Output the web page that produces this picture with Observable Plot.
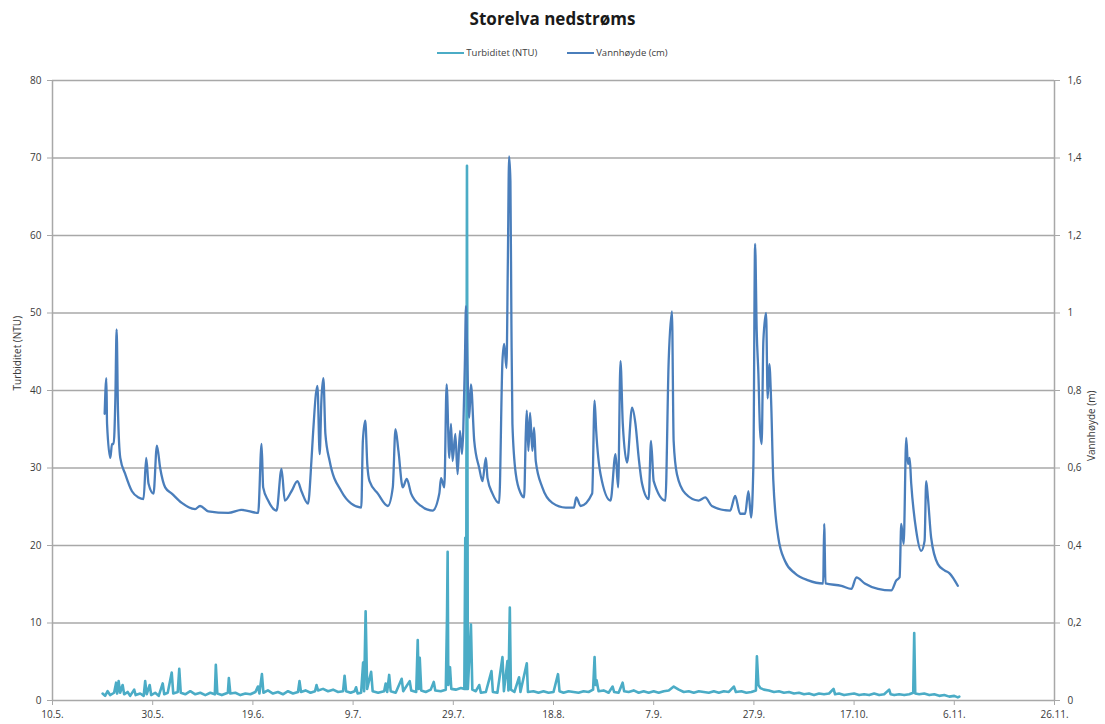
<!DOCTYPE html>
<html>
<head>
<meta charset="utf-8">
<script src="https://cdn.jsdelivr.net/npm/d3@7"></script>
<script src="https://cdn.jsdelivr.net/npm/@observablehq/plot@0.6"></script>
<style>
  body { margin: 0; background: #fff; font-family: "Open Sans", sans-serif; }
  #wrap { width: 1105px; height: 724px; position: relative; overflow: hidden; }
  #title { position: absolute; top: 7px; left: 0; width: 1105px; text-align: center; font-weight: bold; font-size: 17px; color: #1a1a1a; }
  #legend { position: absolute; top: 46px; left: 0; width: 1105px; display: flex; justify-content: center; gap: 30px; font-size: 9.5px; color: #404040; }
  #legend span.item { display: flex; align-items: center; }
  .sw { display: inline-block; width: 27px; height: 2px; margin-right: 2px; }
  #chart { position: absolute; top: 65px; left: 0; }
</style>
</head>
<body>
<div id="wrap">
  <div id="title"></div>
  <div id="legend"></div>
  <div id="chart"></div>
</div>
<script>
// ---- text ----
const chartTitle = "Storelva nedstrøms";
const seriesNames = ["Turbiditet (NTU)", "Vannhøyde (cm)"];
const seriesColors = ["#4bacc6", "#4a7ebb"];
const leftAxisTitle = "Turbiditet (NTU)";
const rightAxisTitle = "Vannhøyde (m)";

// ---- axes ----
const startDate = "2014-05-10";               // x-axis origin (10.5.)
const xTickOffsets = [0, 20, 40, 60, 80, 100, 120, 140, 160, 180, 200]; // days after 10.5.
const xTickLabels = ["10.5.", "30.5.", "19.6.", "9.7.", "29.7.", "18.8.", "7.9.", "27.9.", "17.10.", "6.11.", "26.11."];
const leftTicks = [0, 10, 20, 30, 40, 50, 60, 70, 80];
const rightTickLabels = ["0", "0,2", "0,4", "0,6", "0,8", "1", "1,2", "1,4", "1,6"];
const rightMax = 1.6;   // right axis top (m) aligned with left axis top (80 NTU)
const leftMax = 80;

// ---- data: [days after 10.5., value] ----
const turbiditet = [
  [10.0,0.9],[10.5,0.6],[11.0,1.2],[11.5,0.7],[12.3,1.0],[12.7,2.3],[12.9,0.9],[13.2,2.5],[13.5,1.0],[14.0,2.0],
  [14.3,0.8],[15.0,1.1],[15.5,0.6],[16.3,1.4],[16.6,0.7],[17.5,0.9],[18.2,0.6],[18.5,2.5],[18.8,0.8],[19.4,2.0],
  [19.7,0.7],[20.5,1.0],[21.2,0.6],[22.0,2.2],[22.3,0.8],[23.0,1.0],[23.8,3.6],[24.1,0.9],[25.0,1.1],[25.3,4.1],
  [25.6,1.0],[26.5,0.8],[27.5,1.2],[28.5,0.8],[29.5,1.0],[30.5,0.7],[31.5,1.0],[32.4,0.8],[32.6,4.6],[32.9,0.9],
  [33.8,0.7],[35.0,1.0],[35.2,2.9],[35.5,0.9],[36.5,1.0],[37.5,0.7],[38.5,0.9],[39.5,0.8],[40.5,1.1],[41.0,1.8],
  [41.3,0.9],[41.8,3.4],[42.1,1.0],[43.0,1.3],[44.0,0.9],[45.0,1.1],[46.0,0.8],[47.0,1.2],[48.0,0.9],[49.0,1.1],
  [49.3,2.5],[49.6,1.1],[50.5,1.3],[51.5,1.0],[52.4,1.2],[52.7,2.0],[53.0,1.3],[54.0,1.5],[55.0,1.2],[56.0,1.4],
  [57.0,1.1],[58.0,1.2],[58.3,3.2],[58.6,1.2],[59.5,1.0],[60.3,1.2],[60.6,1.7],[60.9,0.9],[61.6,1.0],[62.0,4.9],
  [62.2,1.2],[62.5,11.5],[62.8,1.5],[63.6,3.7],[63.9,1.2],[65.0,1.0],[66.2,1.2],[66.5,2.2],[66.8,1.1],[67.2,3.3],
  [67.5,1.2],[68.5,1.0],[69.7,2.8],[70.0,1.2],[71.3,2.5],[71.6,1.3],[72.6,1.1],[72.9,7.8],[73.1,1.5],[73.3,5.5],
  [73.6,1.3],[74.5,1.1],[75.5,1.4],[76.1,2.4],[76.4,1.3],[77.5,1.2],[78.5,1.4],[78.75,11.0],[78.87,19.2],[79.0,2.0],
  [79.34,4.3],[79.6,1.5],[80.5,1.4],[81.5,1.6],[82.2,1.5],[82.39,21.0],[82.55,1.5],[82.73,69.0],[82.9,1.5],[83.52,9.8],
  [83.8,1.4],[84.5,1.2],[85.17,2.0],[85.5,1.0],[86.5,1.1],[87.62,3.8],[87.9,1.1],[88.8,1.0],[89.81,5.6],[90.1,1.2],
  [90.81,5.1],[91.0,1.3],[91.28,12.0],[91.5,1.4],[92.2,1.1],[93.13,3.0],[93.4,1.1],[94.67,4.8],[94.9,1.1],[96.0,1.2],
  [97.0,1.0],[98.0,1.2],[99.0,1.0],[100.0,1.1],[100.9,3.4],[101.2,1.2],[102.0,1.0],[103.0,1.2],[104.0,1.1],[105.0,1.0],
  [106.0,1.2],[107.0,1.1],[107.9,1.4],[108.2,5.6],[108.4,2.0],[108.6,2.6],[109.0,1.2],[110.0,1.3],[111.0,1.0],[111.8,1.8],
  [112.1,1.1],[113.0,1.0],[113.8,2.3],[114.1,1.2],[115.0,1.1],[116.0,1.3],[117.0,1.0],[118.0,1.2],[119.0,1.0],[120.0,1.2],
  [121.0,1.0],[122.0,1.2],[123.0,1.3],[124.0,1.8],[125.0,1.4],[126.0,1.1],[127.0,1.2],[128.0,1.0],[129.0,1.2],[130.0,1.1],
  [131.0,1.0],[132.0,1.2],[133.0,1.0],[134.0,1.2],[135.0,1.1],[136.0,1.8],[136.4,1.1],[137.5,1.2],[138.5,1.0],[139.5,1.1],
  [140.4,1.3],[140.6,5.7],[140.9,2.0],[141.3,1.6],[142.0,1.4],[143.0,1.3],[144.0,1.1],[145.0,1.2],[146.0,1.0],[147.0,1.1],
  [148.0,0.9],[149.0,1.0],[150.0,0.8],[151.0,0.9],[152.0,0.7],[153.0,0.9],[154.0,0.8],[155.0,0.9],[155.9,1.5],[156.2,0.8],
  [157.0,0.9],[158.0,0.7],[159.0,0.8],[160.0,0.9],[161.0,0.7],[162.0,0.8],[163.0,0.7],[164.0,0.9],[165.0,0.7],[166.0,0.8],
  [167.0,1.4],[167.3,0.8],[168.0,0.7],[169.0,0.8],[170.0,0.7],[171.0,0.8],[171.8,1.0],[172.0,8.7],[172.2,0.9],[173.0,0.8],
  [174.0,0.9],[175.0,0.7],[176.0,0.8],[177.0,0.6],[178.0,0.7],[179.0,0.5],[180.0,0.6],[180.7,0.4],[181.0,0.5]
];

const vannhoyde = [ // metres (right axis)
  [10.41,0.740],[10.75,0.832],[10.89,0.714],[11.54,0.626],[11.88,0.662],[12.2,0.662],[12.54,0.774],[12.8,0.958],[13.07,0.748],[13.53,0.626],
  [14.53,0.584],[15.86,0.540],[17.17,0.524],[18.17,0.520],[18.71,0.626],[19.16,0.560],[20.16,0.534],[20.84,0.658],[21.49,0.600],[22.49,0.550],
  [23.82,0.534],[25.81,0.510],[28.46,0.494],[29.45,0.502],[31.1,0.488],[35.09,0.484],[37.75,0.492],[41.05,0.484],[41.73,0.662],[42.05,0.550],
  [43.04,0.516],[44.72,0.490],[45.71,0.598],[46.37,0.516],[47.7,0.540],[48.9,0.566],[49.69,0.540],[51.0,0.508],[51.68,0.618],[52.0,0.688],
  [52.88,0.812],[53.33,0.636],[53.67,0.774],[54.07,0.832],[54.47,0.688],[55.32,0.618],[57.65,0.540],[59.64,0.508],[61.63,0.498],[61.95,0.670],
  [62.43,0.722],[62.83,0.610],[63.28,0.566],[64.94,0.534],[66.93,0.502],[67.92,0.550],[68.46,0.700],[69.05,0.644],[69.91,0.550],[70.71,0.572],
  [71.58,0.534],[73.57,0.502],[75.88,0.490],[77.21,0.534],[77.55,0.574],[78.21,0.550],[78.67,0.816],[79.2,0.626],[79.54,0.714],[79.86,0.618],
  [80.4,0.688],[80.86,0.584],[81.33,0.696],[81.73,0.636],[81.99,0.696],[82.33,0.884],[82.53,1.018],[82.85,0.842],[83.18,0.730],[83.52,0.816],
  [84.18,0.670],[85.17,0.600],[85.83,0.566],[86.5,0.626],[86.83,0.574],[87.82,0.534],[89.15,0.510],[89.81,0.876],[90.15,0.920],[90.61,0.858],
  [90.89,1.134],[91.14,1.404],[91.4,1.340],[91.6,0.972],[91.8,0.714],[92.48,0.584],[93.47,0.534],[94.13,0.524],[94.47,0.688],[94.67,0.748],
  [94.99,0.644],[95.32,0.742],[95.78,0.644],[96.12,0.704],[96.46,0.618],[97.77,0.550],[99.76,0.510],[102.43,0.498],[104.08,0.498],[104.54,0.524],
  [105.41,0.502],[107.72,0.534],[108.2,0.774],[108.52,0.696],[109.39,0.584],[111.38,0.516],[112.38,0.636],[112.9,0.550],[113.37,0.876],[113.83,0.714],
  [114.69,0.614],[115.68,0.756],[116.36,0.714],[117.01,0.626],[117.67,0.560],[119.0,0.520],[119.46,0.670],[120.0,0.566],[122.33,0.516],[122.99,0.876],
  [123.64,1.004],[123.98,0.670],[124.64,0.584],[126.31,0.534],[128.96,0.516],[130.29,0.524],[131.6,0.502],[135.26,0.490],[136.26,0.528],[137.25,0.482],
  [138.25,0.482],[138.91,0.540],[139.44,0.472],[139.9,0.610],[140.24,1.178],[140.56,0.954],[140.9,0.842],[141.23,0.696],[141.55,0.662],[141.89,0.928],
  [142.43,1.000],[142.75,0.780],[143.08,0.868],[143.42,0.780],[143.88,0.566],[144.88,0.420],[146.21,0.360],[148.2,0.328],[150.85,0.310],[153.83,0.302],
  [154.03,0.456],[154.29,0.302],[157.47,0.296],[159.46,0.288],[160.46,0.318],[162.13,0.302],[164.78,0.288],[167.42,0.284],[168.42,0.310],[169.09,0.318],
  [169.41,0.456],[169.89,0.404],[170.41,0.678],[170.75,0.610],[171.08,0.626],[171.4,0.560],[172.4,0.438],[173.39,0.386],[174.07,0.412],[174.39,0.566],
  [174.73,0.524],[175.38,0.420],[176.72,0.352],[178.05,0.336],[179.05,0.328],[180.7,0.296]
];

// ---- build ----
const base = new Date(startDate + "T00:00:00Z").getTime();
const toDate = d => new Date(base + d * 864e5);
const scaleFactor = leftMax / rightMax;

const turbData = turbiditet.map(([d, v]) => ({date: toDate(d), v}));
const vannData = vannhoyde.map(([d, m]) => ({date: toDate(d), v: m * scaleFactor}));
const xTicks = xTickOffsets.map(toDate);
const xDomain = [xTicks[0], xTicks[xTicks.length - 1]];

document.getElementById("title").textContent = chartTitle;
const legend = document.getElementById("legend");
seriesNames.forEach((name, i) => {
  const item = document.createElement("span");
  item.className = "item";
  const sw = document.createElement("span");
  sw.className = "sw";
  sw.style.background = seriesColors[i];
  item.appendChild(sw);
  item.appendChild(document.createTextNode(name));
  legend.appendChild(item);
});

const gridColor = "#a8a8a8";
const textColor = "#3a3a3a";

const chart = Plot.plot({
  width: 1105,
  height: 659,
  marginTop: 15,
  marginBottom: 24,
  marginLeft: 52,
  marginRight: 51,
  style: {fontFamily: '"Open Sans", sans-serif', fontSize: "10px", color: textColor, background: "#fff"},
  x: {type: "utc", domain: xDomain},
  y: {domain: [0, leftMax]},
  marks: [
    Plot.gridY(leftTicks, {stroke: gridColor, strokeOpacity: 1, strokeWidth: 1.5}),
    Plot.ruleX(xDomain, {stroke: gridColor, strokeWidth: 1.5}),
    Plot.axisY(leftTicks, {anchor: "left", tickSize: 5, tickPadding: 6, stroke: gridColor, fill: textColor, label: null}),
    Plot.axisY(leftTicks, {anchor: "right", tickSize: 5, tickPadding: 8, stroke: gridColor, fill: textColor, label: null,
      tickFormat: d => rightTickLabels[leftTicks.indexOf(d)]}),
    Plot.axisX(xTicks, {anchor: "bottom", tickSize: 5, tickPadding: 5, stroke: gridColor, fill: textColor, label: null,
      tickFormat: d => xTickLabels[xTicks.findIndex(t => +t === +d)]}),
    Plot.line(turbData, {x: "date", y: "v", stroke: seriesColors[0], strokeWidth: 2.6, strokeLinejoin: "round"}),
    Plot.line(vannData, {x: "date", y: "v", stroke: seriesColors[1], strokeWidth: 2.3, curve: "monotone-x"}),
    Plot.text([leftAxisTitle], {frameAnchor: "left", dx: -35, rotate: -90, text: d => d, fill: textColor, fontSize: 10}),
    Plot.text([rightAxisTitle], {frameAnchor: "right", dx: 37, rotate: -90, text: d => d, fill: textColor, fontSize: 10})
  ]
});
document.getElementById("chart").appendChild(chart);
</script>
</body>
</html>
